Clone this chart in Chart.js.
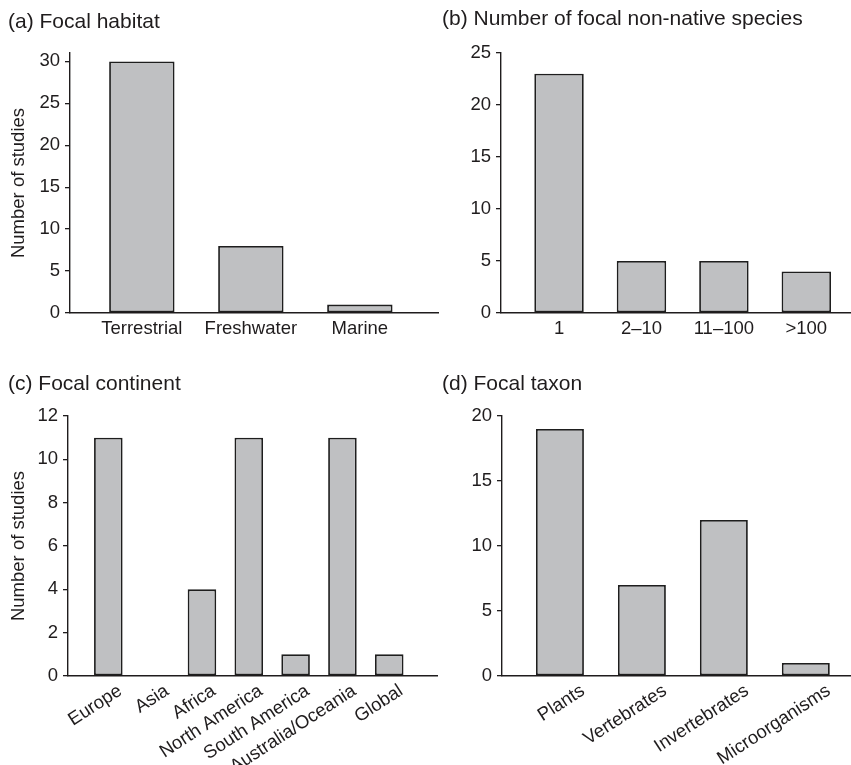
<!DOCTYPE html>
<html>
<head>
<meta charset="utf-8">
<script src="https://cdn.jsdelivr.net/npm/chart.js@4.4.1/dist/chart.umd.min.js"></script>
<style>
  html, body { margin: 0; padding: 0; background: #fff; }
  #fig { position: relative; width: 851px; height: 765px; overflow: hidden; }
  #fig canvas { position: absolute; }
</style>
</head>
<body>
<div id="fig">
  <canvas id="habitat" width="440" height="350" style="left:0;top:0"></canvas>
  <canvas id="species" width="426" height="350" style="left:425px;top:0"></canvas>
  <canvas id="continent" width="440" height="405" style="left:0;top:360px"></canvas>
  <canvas id="taxon" width="426" height="405" style="left:425px;top:360px"></canvas>
</div>
<script>
// data
const habitats = ["Terrestrial", "Freshwater", "Marine"];
const habitatCounts = [30, 8, 1];

const speciesBins = ["1", "2\u201310", "11\u2013100", ">100"];
const speciesCounts = [23, 5, 5, 4];

const continents = ["Europe", "Asia", "Africa", "North America", "South America", "Australia/Oceania", "Global"];
const continentCounts = [11, 0, 4, 11, 1, 11, 1];

const taxa = ["Plants", "Vertebrates", "Invertebrates", "Microorganisms"];
const taxonCounts = [19, 7, 12, 1];

const INK = "#1f1c1d";
Chart.defaults.font.family = "Liberation Sans";
Chart.defaults.color = INK;

function panel(id, title, cats, values, o) {
  new Chart(document.getElementById(id), {
    type: "bar",
    data: {
      datasets: [{
        data: cats.map((c, i) => ({ x: i, y: values[i] })),
        backgroundColor: "#bfc0c2",
        borderColor: "#1e1e1e",
        borderWidth: 1.8,
        borderSkipped: false,
        barPercentage: o.bar,
        categoryPercentage: 1,
      }],
    },
    options: {
      responsive: false,
      animation: false,
      layout: { padding: o.pad },
      plugins: {
        legend: { display: false },
        tooltip: { enabled: false },
        title: {
          display: true,
          text: title,
          align: "start",
          color: INK,
          font: { size: 21, weight: "normal" },
          padding: o.titlePad,
        },
      },
      scales: {
        x: {
          type: "linear",
          offset: false,
          min: o.xmin,
          max: o.xmax,
          afterBuildTicks: (s) => { s.ticks = cats.map((c, i) => ({ value: i })); },
          afterFit: (s) => { s.height = o.xh; },
          grid: { display: false, drawTicks: false },
          border: { color: INK, width: 1.4 },
          ticks: {
            autoSkip: false,
            minRotation: o.rot,
            maxRotation: o.rot,
            padding: o.xpad,
            labelOffset: o.lblOff,
            font: { size: 18.5 },
            color: INK,
            callback: (v) => cats[v],
          },
        },
        y: {
          min: 0,
          max: o.ymax,
          afterFit: (s) => { s.width = o.yw; },
          grid: { display: true, drawOnChartArea: false, drawTicks: true, tickLength: 5, color: INK, lineWidth: 1.3 },
          border: { color: INK, width: 1.4 },
          ticks: { stepSize: o.step, includeBounds: false, padding: 5, font: { size: 18.5 }, color: INK },
          title: { display: !!o.ytitle, text: o.ytitle, font: { size: 18.5 }, color: INK, padding: 0 },
        },
      },
    },
  });
}

panel("habitat", "(a) Focal habitat", habitats, habitatCounts, {
  pad: { top: 0, left: 8, right: 2, bottom: 0 },
  titlePad: { top: 9.4, bottom: 18.4 },
  xmin: -0.659, xmax: 2.717, xh: 37, rot: 0, xpad: 5, lblOff: 0,
  ymax: 31, step: 5, yw: 62, bar: 0.6, ytitle: "Number of studies",
});

panel("species", "(b) Number of focal non-native species", speciesBins, speciesCounts, {
  pad: { top: 0, left: 17, right: 1, bottom: 0 },
  titlePad: { top: 6.4, bottom: 21.4 },
  xmin: -0.704, xmax: 3.53, xh: 37, rot: 0, xpad: 5, lblOff: 0,
  ymax: 25, step: 5, yw: 59, bar: 0.6,
});

panel("continent", "(c) Focal continent", continents, continentCounts, {
  pad: { top: 0, left: 8, right: 3, bottom: 0 },
  titlePad: { top: 11.4, bottom: 19.4 },
  xmin: -0.861, xmax: 7.02, xh: 89, rot: 33, xpad: 4, lblOff: 12,
  ymax: 12, step: 2, yw: 60, bar: 0.61, ytitle: "Number of studies",
});

panel("taxon", "(d) Focal taxon", taxa, taxonCounts, {
  pad: { top: 0, left: 17, right: 1, bottom: 0 },
  titlePad: { top: 11.4, bottom: 19.4 },
  xmin: -0.707, xmax: 3.539, xh: 89, rot: 33, xpad: 4, lblOff: 23,
  ymax: 20, step: 5, yw: 60, bar: 0.585,
});
</script>
</body>
</html>
